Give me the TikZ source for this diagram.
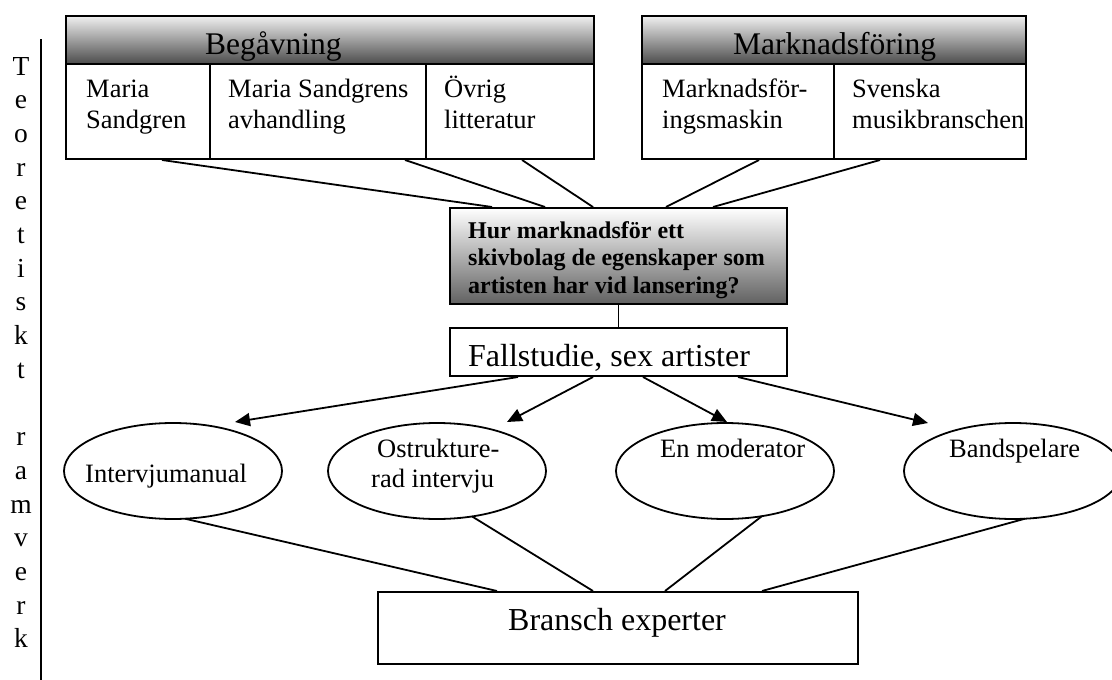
\documentclass[tikz,border=0pt]{standalone}
\usepackage{fontspec}
\setmainfont{Liberation Serif}
\usetikzlibrary{arrows.meta,shapes.geometric,calc}
\begin{document}
\begin{tikzpicture}[x=1pt,y=-1pt,
  box/.style={draw=black,line width=2pt,rectangle,inner sep=0pt,anchor=north west},
  hdr/.style={box,top color=black!6,bottom color=black!70},
  qbox/.style={box,top color=white,bottom color=black!62},
  oval/.style={draw=black,line width=1.8pt,ellipse,inner sep=0pt,minimum width=218pt,minimum height=96pt},
  conn/.style={draw=black,line width=1.8pt},
  arr/.style={conn,-{Triangle[length=15pt,width=13pt]}},
  lbl/.style={anchor=base west,inner sep=0pt,font=\fontsize{26.5}{31}\selectfont},
  big/.style={anchor=base west,inner sep=0pt,font=\fontsize{32}{38}\selectfont},
  ques/.style={anchor=base west,inner sep=0pt,font=\fontsize{24}{28}\selectfont\bfseries},
  vlet/.style={anchor=base,inner sep=0pt,font=\fontsize{27.5}{32}\selectfont},
]
\useasboundingbox[fill=white] (0,0) rectangle (1112,680);

% left vertical label and rule
\foreach \l/\yy [count=\i] in {T/75,e/108.7,o/142.4,r/176.1,e/209.8,t/243.5,i/277.2,s/310.9,k/344.6,t/378.3,r/445.7,a/479.4,m/513.1,v/546.8,e/580.5,r/614.2,k/647.9}
  \node[vlet] (v\i) at (21,\yy) {\l};
\coordinate (vtop) at (40.7,39);
\coordinate (vbot) at (40.7,682);
\draw[line width=2pt] (vtop) -- (vbot);

% Begavning table
\node[hdr,minimum width=528pt,minimum height=47.7pt] (begh) at (65,15) {};
\node[box,minimum width=144pt,minimum height=95.3pt] (c1) at (65,62.7) {};
\node[box,minimum width=216pt,minimum height=95.3pt] (c2) at (209,62.7) {};
\node[box,minimum width=168pt,minimum height=95.3pt] (c3) at (425,62.7) {};
\node[big,font=\fontsize{31.5}{38}\selectfont] (tbeg) at (205,54) {Begåvning};
\node[lbl] (t1a) at (86,97) {Maria};
\node[lbl] (t1b) at (86,128) {Sandgren};
\node[lbl] (t2a) at (228,97) {Maria Sandgrens};
\node[lbl] (t2b) at (228,128) {avhandling};
\node[lbl] (t3a) at (444,97) {Övrig};
\node[lbl] (t3b) at (444,128) {litteratur};

% Marknadsforing table
\node[hdr,minimum width=384.3pt,minimum height=47.7pt] (mh) at (640.7,15) {};
\node[box,minimum width=192.3pt,minimum height=95.3pt] (c4) at (640.7,62.7) {};
\node[box,minimum width=192pt,minimum height=95.3pt] (c5) at (833,62.7) {};
\node[big,font=\fontsize{31.5}{38}\selectfont] (tmark) at (733,54) {Marknadsföring};
\node[lbl] (t4a) at (662,97) {Marknadsför-};
\node[lbl] (t4b) at (662,128) {ingsmaskin};
\node[lbl] (t5a) at (852,97) {Svenska};
\node[lbl] (t5b) at (852,128) {musikbranschen};

% question
\node[qbox,minimum width=337pt,minimum height=96pt] (q) at (449,207) {};
\node[ques] (qa) at (468,238) {Hur marknadsför ett};
\node[ques] (qb) at (468,265) {skivbolag de egenskaper som};
\node[ques] (qc) at (468,293) {artisten har vid lansering?};

% case study
\node[box,minimum width=337pt,minimum height=48pt] (f) at (449,327) {};
\node[big] (tf) at (468,366) {Fallstudie, sex artister};

% ellipses
\node[oval] (e1) at (173,471) {};
\node[oval] (e2) at (437,471) {};
\node[oval] (e3) at (725,471) {};
\node[oval] (e4) at (1013,471) {};
\node[lbl] (te1) at (85,482) {Intervjumanual};
\node[lbl] (te2a) at (377,457) {Ostrukture-};
\node[lbl] (te2b) at (371,487) {rad intervju};
\node[lbl] (te3) at (660,457) {En moderator};
\node[lbl] (te4) at (949,457) {Bandspelare};

% experts
\node[box,minimum width=480pt,minimum height=72pt] (b) at (377,591) {};
\node[big] (tb) at (508,630) {Bransch experter};

% connectors top
\draw[conn] ([xshift=97pt]c1.south west) -- ([xshift=43pt]q.north west);
\draw[conn] ([xshift=196pt]c2.south west) -- ([xshift=96pt]q.north west);
\draw[conn] ([xshift=97pt]c3.south west) -- ([xshift=144pt]q.north west);
\draw[conn] ([xshift=118.3pt]c4.south west) -- ([xshift=217pt]q.north west);
\draw[conn] ([xshift=47pt]c5.south west) -- ([xshift=264pt]q.north west);
\draw[conn] (q.south) -- (f.north);

% arrows
\draw[arr] ([xshift=69pt]f.south west) -- ([xshift=62pt,yshift=49pt]e1.center);
\draw[arr] ([xshift=144pt]f.south west) -- ([xshift=70pt,yshift=49pt]e2.center);
\draw[arr] ([xshift=194pt]f.south west) -- ([xshift=2pt,yshift=49pt]e3.center);
\draw[arr] ([xshift=289pt]f.south west) -- ([xshift=-85pt,yshift=48pt]e4.center);

% bottom connectors
\draw[conn] ([xshift=12pt,yshift=-47.7pt]e1.center) -- ([xshift=120pt]b.north west);
\draw[conn] ([xshift=35pt,yshift=-45.4pt]e2.center) -- ([xshift=216pt]b.north west);
\draw[conn] ([xshift=37pt,yshift=-45.1pt]e3.center) -- ([xshift=288pt]b.north west);
\draw[conn] ([xshift=12pt,yshift=-47.7pt]e4.center) -- ([xshift=385pt]b.north west);
\end{tikzpicture}
\end{document}
